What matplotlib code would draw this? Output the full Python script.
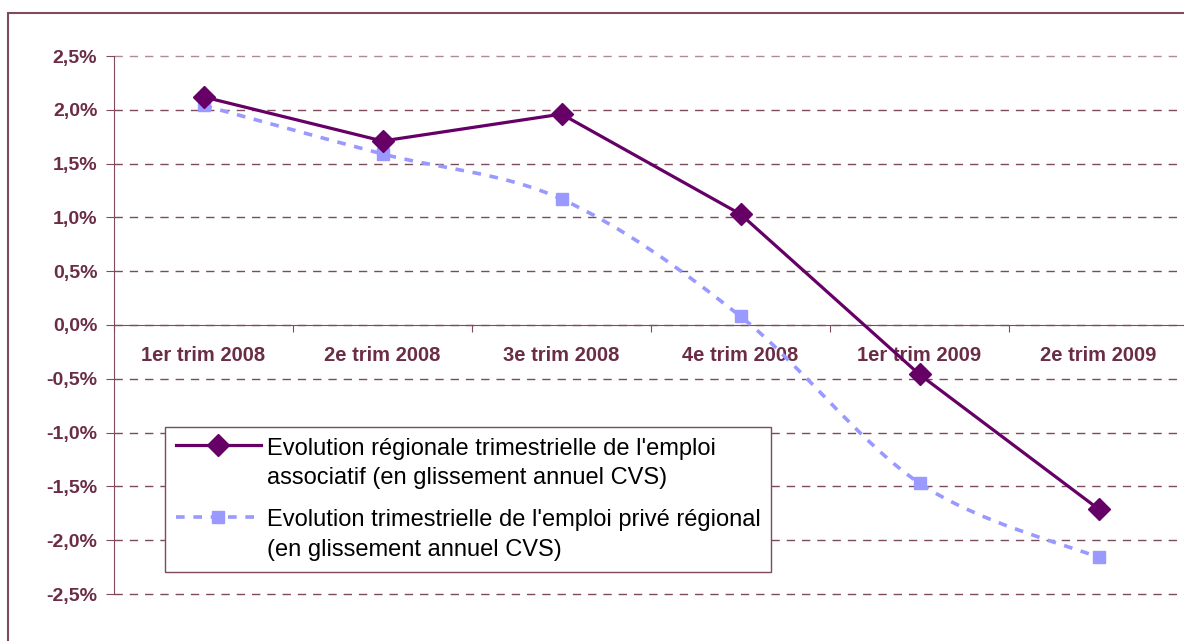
import numpy as np
import matplotlib
matplotlib.use('Agg')
import matplotlib.pyplot as plt
from matplotlib.path import Path
from matplotlib.patches import PathPatch, Rectangle
from matplotlib.lines import Line2D
from matplotlib.legend_handler import HandlerLine2D
from matplotlib.ticker import FuncFormatter

plt.rcParams['font.family'] = ['Liberation Sans', 'DejaVu Sans']

# Data
quarters = ['1er trim 2008', '2e trim 2008', '3e trim 2008',
            '4e trim 2008', '1er trim 2009', '2e trim 2009']
emploi_associatif = [2.12, 1.71, 1.96, 1.03, -0.46, -1.71]
emploi_prive = [2.04, 1.59, 1.17, 0.08, -1.47, -2.16]

label_assoc = "Evolution régionale trimestrielle de l'emploi\nassociatif (en glissement annuel CVS)"
label_prive = "Evolution trimestrielle de l'emploi privé régional\n(en glissement annuel CVS)"

c_assoc = '#660066'
c_prive = '#9999FF'
c_axis = '#7F4A5E'
c_text = '#6B2C45'

fig = plt.figure(figsize=(11.84, 6.41), dpi=100)
ax = fig.add_axes([114 / 1184, 1 - 594 / 641, 1074 / 1184, 538 / 641])

x = np.arange(len(quarters))


def smooth_path(xs, ys, t=0.5):
    # Excel-like smoothed line: Catmull-Rom converted to cubic Bezier segments
    pts = np.column_stack([xs, ys])
    verts = [pts[0]]
    codes = [Path.MOVETO]
    for i in range(len(pts) - 1):
        p0 = pts[i - 1] if i > 0 else pts[i]
        p1, p2 = pts[i], pts[i + 1]
        p3 = pts[i + 2] if i + 2 < len(pts) else pts[i + 1]
        c1 = p1 + (p2 - p0) * t / 3
        c2 = p2 - (p3 - p1) * t / 3
        verts += [c1, c2, p2]
        codes += [Path.CURVE4] * 3
    return Path(verts, codes)


class FirstLineHandler(HandlerLine2D):
    # put the legend symbol level with the first line of a two-line label
    def create_artists(self, legend, orig_handle, xdescent, ydescent,
                       width, height, fontsize, trans):
        artists = super().create_artists(legend, orig_handle, xdescent, ydescent,
                                         width, height, fontsize, trans)
        for a in artists:
            a.set_ydata(np.asarray(a.get_ydata()) + 0.78 * fontsize)
        return artists


dash_prive = (0, (2.4, 2.4))
ax.add_patch(PathPatch(smooth_path(x, emploi_prive), fill=False, edgecolor=c_prive,
                       lw=2.6, linestyle=dash_prive, zorder=3))
ax.plot(x, emploi_prive, linestyle='none', marker='s', markersize=8.5,
        color=c_prive, zorder=4)
ax.plot(x, emploi_associatif, color=c_assoc, lw=2.3, marker='D', markersize=11,
        zorder=5)

ax.set_xlim(-0.5, len(quarters) - 0.5)
ax.set_ylim(-2.5, 2.5)
ax.set_yticks(np.arange(-2.5, 2.51, 0.5))
ax.yaxis.set_major_formatter(FuncFormatter(lambda v, p: f'{v:.1f}%'.replace('.', ',')))
ax.grid(axis='y', color=c_axis, linestyle=(0, (6, 5)), lw=1)
ax.set_axisbelow(True)
for gl in ax.get_ygridlines():
    gl.set_clip_on(False)
ax.get_ygridlines()[-1].set_color('#B08A98')

for side in ['top', 'right']:
    ax.spines[side].set_visible(False)
ax.spines['left'].set_color(c_axis)
ax.spines['bottom'].set_color(c_axis)
ax.spines['bottom'].set_position(('data', 0))

# category boundaries as major ticks, labels on minor ticks
ax.set_xticks(np.arange(-0.5, len(quarters), 1))
ax.set_xticklabels([])
ax.set_xticks(x, minor=True)
ax.set_xticklabels(quarters, minor=True)
ax.tick_params(axis='x', which='major', direction='out', length=5, color=c_axis)
ax.tick_params(axis='x', which='minor', length=0, pad=15, labelsize=14.5, labelcolor=c_text)
ax.tick_params(axis='y', direction='out', length=6, color=c_axis, labelsize=14,
               labelcolor=c_text, pad=6)
for lab in ax.get_xticklabels(minor=True) + ax.get_yticklabels():
    lab.set_fontweight('bold')

handles = [Line2D([], [], color=c_assoc, lw=2.3, marker='D', markersize=11),
           Line2D([], [], color=c_prive, lw=2.6, marker='s', markersize=8.5,
                  linestyle=dash_prive)]
leg = ax.legend(handles, [label_assoc, label_prive], loc='upper left',
                bbox_to_anchor=(51 / 1074, 1 - (427 - 56) / 538), fontsize=17,
                frameon=True, fancybox=False, framealpha=1, edgecolor=c_axis,
                handlelength=3.6, labelspacing=0.85, borderpad=0.45, handletextpad=0.25,
                borderaxespad=0, handler_map={Line2D: FirstLineHandler()})
leg.get_frame().set_linewidth(1)
for t in leg.get_texts():
    t.set_linespacing(1.45)

# outer chart frame
fig.add_artist(Rectangle((8 / 1184, -0.05), 1.1, 1 - 13 / 641 + 0.05,
                         transform=fig.transFigure, fill=False, edgecolor=c_axis, lw=1.5))

fig.savefig('out.png', dpi=100)
